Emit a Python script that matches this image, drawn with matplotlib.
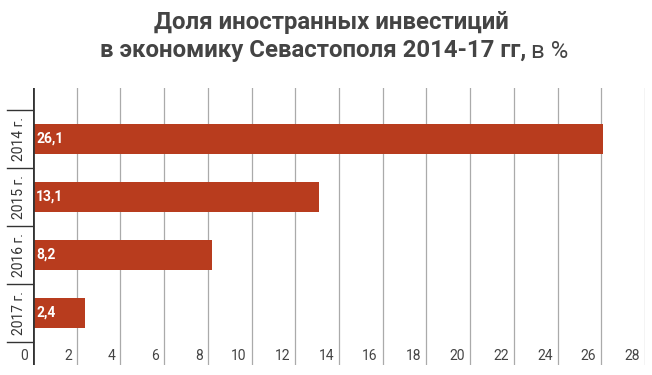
"""Share of foreign investment in Sevastopol economy, 2014-17."""

import matplotlib

matplotlib.use("Agg")
import matplotlib.pyplot as plt  # noqa: E402
import matplotlib.transforms as mtransforms  # noqa: E402
import numpy as np  # noqa: E402

years = ["2014 г.", "2015 г.", "2016 г.", "2017 г."]
values = [26.1, 13.1, 8.2, 2.4]
value_labels = ["26,1", "13,1", "8,2", "2,4"]
x_ticks = [0, 2, 4, 6, 8, 10, 12, 14, 16, 18, 20, 22, 24, 26, 28]

BAR_COLOR = "#b83c1e"
TEXT_COLOR = "#333333"

plt.rcParams["font.family"] = ["Roboto", "DejaVu Sans"]

W, H = 652, 375
fig = plt.figure(figsize=(W / 100, H / 100), dpi=100)

# axes in pixel coordinates: x 33..645, y 88..365
left, right, top, bottom = 33, 645, 88, 365
ax = fig.add_axes([left / W, 1 - bottom / H, (right - left) / W, (bottom - top) / H])

ax.set_xlim(0, 28)
# category slots 58 px; first divider at y=110, last at y=342
ax.set_ylim(3.5 + 23 / 58, -0.5 - 22 / 58)

pos = np.arange(len(years))
ax.barh(pos, values, height=0.53, color=BAR_COLOR, zorder=3)

for p, lab in zip(pos, value_labels):
    ax.text(0.15, p, lab, color="white", fontweight="bold", fontsize=10,
            ha="left", va="center", zorder=4)

for v in x_ticks[1:]:
    ax.axvline(v, color="#aaaaaa", linewidth=0.9, zorder=1)
ax.axvline(0, color="#333333", linewidth=2, zorder=5)

# tick labels sit just left of each gridline, inside the plot bottom
offset = mtransforms.ScaledTranslation(-5 / 100, 0, fig.dpi_scale_trans)
for v in x_ticks:
    ax.text(v, 3.5 + 14 / 58, str(v), fontsize=10, color="#444444",
            ha="right", va="center", transform=ax.transData + offset)

# category dividers and rotated year labels on the left
blend = mtransforms.blended_transform_factory(fig.transFigure, ax.transData)
for d in np.arange(-0.5, len(years), 1.0):
    ax.plot([7 / W, left / W], [d, d], color="#333333", linewidth=1,
            transform=blend, clip_on=False)
for p, y in zip(pos, years):
    ax.text(19 / W, p, y, rotation=90, fontsize=10, color=TEXT_COLOR,
            ha="center", va="center", transform=blend)

ax.set_xticks([])
ax.set_yticks([])
for s in ax.spines.values():
    s.set_visible(False)

fig.text(331 / W, 1 - 22 / H, "Доля иностранных инвестиций", fontsize=17.3,
         fontweight="bold", color="#444444", ha="center", va="center")
fig.text(526 / W, 1 - 51 / H, "в экономику Севастополя 2014-17 гг,", fontsize=17.3,
         fontweight="bold", color="#444444", ha="right", va="center")
fig.text(531 / W, 1 - 51 / H, "в %", fontsize=17.3, color="#444444",
         ha="left", va="center")

fig.savefig("out.png", dpi=100, facecolor="white")
